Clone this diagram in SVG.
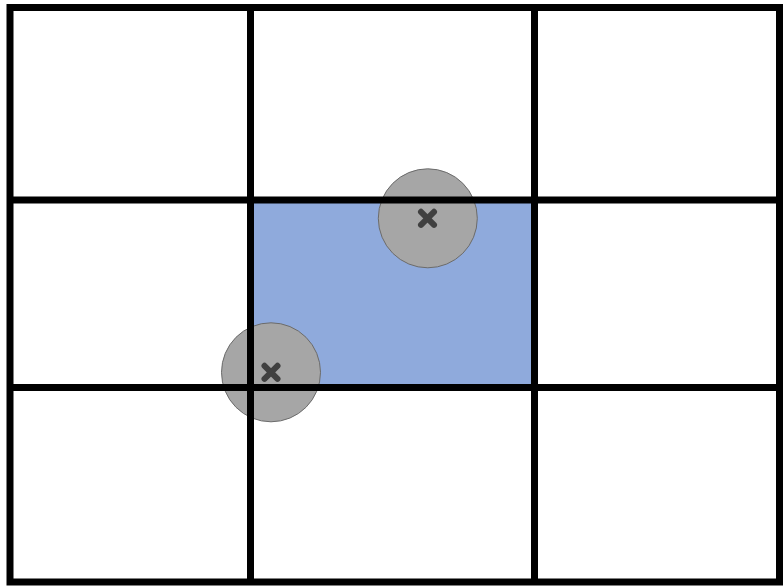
<svg xmlns="http://www.w3.org/2000/svg" width="784" height="587" viewBox="0 0 784 587">
  <style>
    .grid { stroke: #000; stroke-width: 7; fill: none; }
    .zone { fill: #a6a6a6; stroke: #6b6b6b; stroke-width: 1; }
    .mark { stroke: #404040; stroke-width: 6; stroke-linecap: round; }
  </style>
  <defs>
    <g id="x-mark">
      <line class="mark" x1="-6.5" y1="-6.5" x2="6.5" y2="6.5"/>
      <line class="mark" x1="-6.5" y1="6.5" x2="6.5" y2="-6.5"/>
    </g>
  </defs>
  <rect width="784" height="587" fill="#fff"/>
  <g id="highlight-cell">
    <rect x="252" y="201" width="281" height="185" fill="#8faadc"/>
  </g>
  <g id="circle-top">
    <circle class="zone" cx="427.8" cy="218.3" r="49.5"/>
  </g>
  <g id="circle-bottom">
    <circle class="zone" cx="271" cy="372.3" r="49.5"/>
  </g>
  <g id="grid">
    <rect class="grid" x="10" y="7.5" width="769.5" height="574.5"/>
    <line class="grid" x1="250.5" y1="7.5" x2="250.5" y2="582"/>
    <line class="grid" x1="534.5" y1="7.5" x2="534.5" y2="582"/>
    <line class="grid" x1="10" y1="200" x2="779.5" y2="200"/>
    <line class="grid" x1="10" y1="387.5" x2="779.5" y2="387.5"/>
  </g>
  <g id="marks">
    <use href="#x-mark" x="427.5" y="218.3"/>
    <use href="#x-mark" x="271" y="372.3"/>
  </g>
</svg>
